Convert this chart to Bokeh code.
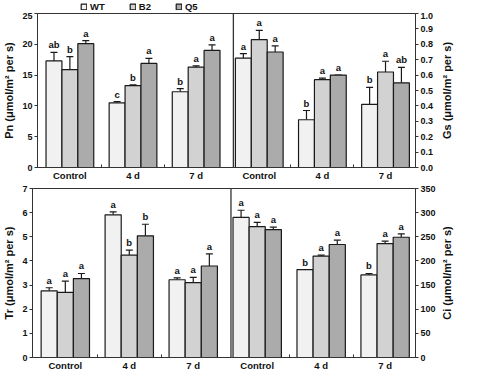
import math
from bokeh.plotting import figure
from bokeh.models import (ColumnDataSource, Range1d, LinearAxis, FixedTicker, Whisker, TeeHead,
                          Span, Legend, LegendItem, PrintfTickFormatter)
from bokeh.layouts import column, row
from bokeh.embed import file_html
from bokeh.resources import INLINE
from bokeh.core.properties import value

# ---------------- data ----------------
groups = ["Control", "4 d", "7 d"]
cultivars = ["WT", "B2", "Q5"]
colors = ["#f1f1f1", "#d2d2d2", "#ababab"]

# rows = cultivar (WT, B2, Q5), columns = group (Control, 4 d, 7 d)
pn_mean = [[17.3, 10.5, 12.3], [15.9, 13.3, 16.3], [20.1, 16.9, 19.0]]
pn_se = [[1.4, 0.2, 0.5], [2.1, 0.1, 0.2], [0.5, 0.8, 0.9]]
pn_letters = [["ab", "c", "b"], ["b", "b", "a"], ["a", "a", "a"]]
pn_ticks = [0, 5, 10, 15, 20, 25]

gs_mean = [[0.71, 0.31, 0.41], [0.83, 0.57, 0.62], [0.75, 0.60, 0.55]]
gs_se = [[0.03, 0.06, 0.11], [0.06, 0.01, 0.07], [0.04, 0.0, 0.10]]
gs_letters = [["a", "b", "b"], ["a", "a", "a"], ["a", "a", "ab"]]
gs_ticks = [0.0, 0.1, 0.2, 0.3, 0.4, 0.5, 0.6, 0.7, 0.8, 0.9, 1.0]

tr_mean = [[2.76, 5.91, 3.22], [2.70, 4.24, 3.10], [3.27, 5.04, 3.79]]
tr_se = [[0.13, 0.12, 0.08], [0.46, 0.21, 0.22], [0.21, 0.48, 0.50]]
tr_letters = [["a", "a", "a"], ["a", "b", "a"], ["a", "b", "a"]]
tr_ticks = [0, 1, 2, 3, 4, 5, 6, 7]

ci_mean = [[290, 182, 171], [271, 210, 236], [265, 234, 249]]
ci_se = [[15, 0, 3], [9, 2, 5], [5, 9, 7]]
ci_letters = [["a", "b", "b"], ["a", "a", "a"], ["a", "a", "a"]]
ci_ticks = [0, 50, 100, 150, 200, 250, 300, 350]

unit = "(\u03bcmol/m\u00b2 per s)"

# ---------------- style ----------------
FONT = "Liberation Sans"
EDGE = "#1a1a1a"
FRAME = "#333333"
BAR_W = 0.252
W_MAIN = 439
W_SIDE = 22
BL, BR = 31, 24
X_LO, X_HI = -0.513, 5.475


def style_text_axis(ax, size="9px"):
    ax.major_label_text_font = FONT
    ax.major_label_text_font_style = "bold"
    ax.major_label_text_font_size = size
    ax.major_label_text_color = "#111111"
    ax.axis_label_text_font = FONT
    ax.axis_label_text_font_style = "bold"
    ax.axis_label_text_font_size = "11px"
    ax.axis_label_text_color = "#111111"
    ax.axis_line_color = FRAME
    ax.major_tick_line_color = FRAME


def blank(p):
    p.xgrid.visible = False
    p.ygrid.visible = False
    p.outline_line_color = None
    p.background_fill_color = "white"
    p.border_fill_color = "white"


def add_panel(p, side, means, ses, letters, yname):
    for i, c in enumerate(cultivars):
        xs = [side * 3 + g + (i - 1) * BAR_W for g in range(len(groups))]
        tops = means[i]
        his = [m + s for m, s in zip(means[i], ses[i])]
        src = ColumnDataSource(dict(x=xs, top=tops, hi=his, lab=letters[i]))
        p.vbar(x="x", top="top", width=BAR_W, source=src, fill_color=colors[i],
               line_color=EDGE, line_width=1.2, y_range_name=yname)
        wk = Whisker(source=src, base="x", upper="hi", lower="top", dimension="height",
                     line_color=EDGE, line_width=1.2,
                     upper_head=TeeHead(size=7, line_color=EDGE, line_width=1.2),
                     lower_head=None, y_range_name=yname)
        p.add_layout(wk)
        p.text(x="x", y="hi", text="lab", source=src, text_align="center",
               text_baseline="bottom", y_offset=-2, text_font=value(FONT),
               text_font_style="bold", text_font_size="9.5px", text_color="#111111",
               y_range_name=yname)


def make_row(height, btop, bbot, left, right):
    (lmean, lse, llet, lticks, lname) = left
    (rmean, rse, rlet, rticks, rname, rfmt) = right
    p = figure(width=W_MAIN, height=height, output_backend="svg", toolbar_location=None,
               x_range=Range1d(X_LO, X_HI), y_range=Range1d(lticks[0], lticks[-1]),
               min_border_left=BL, min_border_right=BR, min_border_top=btop,
               min_border_bottom=bbot)
    p.extra_y_ranges = {"r": Range1d(rticks[0], rticks[-1])}
    blank(p)
    p.outline_line_color = FRAME
    p.outline_line_width = 1

    # bottom axis
    xa = p.xaxis[0]
    centers = list(range(2 * len(groups)))
    minors = [g + 0.5 for g in range(len(groups) - 1)] + [3 + g + 0.5 for g in range(len(groups) - 1)]
    xa.ticker = FixedTicker(ticks=centers, minor_ticks=minors)
    xa.major_label_overrides = {k: (groups * 2)[k] for k in centers}
    style_text_axis(xa, "9.5px")
    xa.major_tick_out = 0
    xa.major_tick_in = 0
    xa.minor_tick_in = 3
    xa.minor_tick_out = 0
    xa.minor_tick_line_color = FRAME
    xa.major_label_standoff = 2

    # left axis
    ya = p.yaxis[0]
    ya.ticker = FixedTicker(ticks=lticks)
    ya.axis_label = lname + " " + unit
    style_text_axis(ya)
    ya.major_tick_out = 3
    ya.major_tick_in = 0
    ya.minor_tick_out = 0
    ya.minor_tick_in = 0
    ya.major_label_standoff = 2
    ya.axis_label_standoff = 4

    # right axis
    ra = LinearAxis(y_range_name="r", ticker=FixedTicker(ticks=rticks))
    if rfmt:
        ra.formatter = PrintfTickFormatter(format=rfmt)
    style_text_axis(ra)
    ra.major_tick_out = 3
    ra.major_tick_in = 0
    ra.minor_tick_out = 0
    ra.minor_tick_in = 0
    ra.major_label_standoff = 2
    p.add_layout(ra, "right")

    add_panel(p, 0, lmean, lse, llet, "default")
    add_panel(p, 1, rmean, rse, rlet, "r")

    p.add_layout(Span(location=2.59, dimension="height", line_color=FRAME, line_width=1.3))

    # side strip carrying the right-hand axis title (reads bottom-to-top)
    s = figure(width=W_SIDE, height=height, output_backend="svg", toolbar_location=None,
               x_range=Range1d(0, 1), y_range=Range1d(0, 1),
               x_axis_location=None, y_axis_location=None,
               min_border_left=0, min_border_right=0, min_border_top=btop,
               min_border_bottom=bbot)
    blank(s)
    s.text(x=[0.33], y=[0.5], text=[rname + " " + unit], angle=math.pi / 2,
           text_align="center", text_baseline="middle", text_font=value(FONT),
           text_font_style="bold", text_font_size="11px", text_color="#111111")
    return p, s


# legend strip on top (swatch renderers sit outside the strip's visible range)
H_LEG, H1, H2 = 12, 171, 190
lg = figure(width=W_MAIN + W_SIDE, height=H_LEG, output_backend="svg", toolbar_location=None,
            x_range=Range1d(0, 1), y_range=Range1d(0, 1),
            x_axis_location=None, y_axis_location=None,
            min_border_left=0, min_border_right=0, min_border_top=0, min_border_bottom=0)
blank(lg)
items = []
for c, col in zip(cultivars, colors):
    r = lg.vbar(x=[-5.0], top=[0.0], width=0.1, fill_color=col, line_color=EDGE,
                line_width=1.2)
    items.append(LegendItem(label=c, renderers=[r]))
legend = Legend(items=items, orientation="horizontal", location=(80, 0), padding=0, margin=0,
                spacing=24, glyph_width=7, glyph_height=7, label_standoff=3,
                label_width=0, label_height=7, border_line_alpha=0,
                background_fill_alpha=0, label_text_font=FONT,
                label_text_font_style="bold", label_text_font_size="9.5px",
                label_text_color="#111111")
lg.add_layout(legend)

p1, s1 = make_row(H1, 1, 15, (pn_mean, pn_se, pn_letters, pn_ticks, "Pn"),
                  (gs_mean, gs_se, gs_letters, gs_ticks, "Gs", "%.1f"))
p2, s2 = make_row(H2, 5, 13, (tr_mean, tr_se, tr_letters, tr_ticks, "Tr"),
                  (ci_mean, ci_se, ci_letters, ci_ticks, "Ci", None))

layout = column(lg, row(p1, s1, spacing=0), row(p2, s2, spacing=0), spacing=0)
open("out.html", "w").write(file_html(layout, INLINE))
